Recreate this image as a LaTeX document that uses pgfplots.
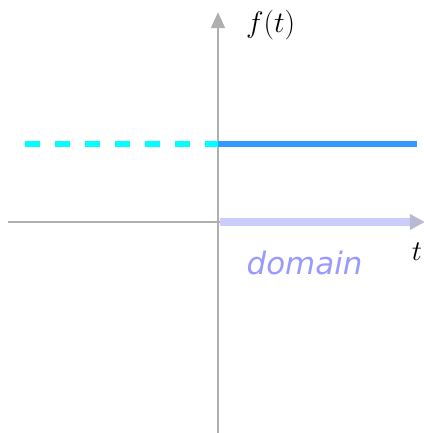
\documentclass[border=0pt]{standalone}
\usepackage{fontspec}
\usepackage{pgfplots}
\pgfplotsset{compat=1.18}
\usetikzlibrary{arrows.meta}
\newfontfamily\dv{DejaVu Sans}
\definecolor{axgray}{RGB}{175,175,175}
\definecolor{fblue}{RGB}{51,153,255}
\definecolor{fcyan}{RGB}{0,255,255}
\definecolor{lav}{RGB}{204,204,250}
\definecolor{lavhead}{RGB}{185,185,210}
\definecolor{domtext}{RGB}{153,153,255}
\begin{document}
\begin{tikzpicture}[x=1bp,y=1bp]
\begin{axis}[
  scale only axis, width=424bp, height=433bp,
  xmin=-1.0955, xmax=1.0352, ymin=-2.705, ymax=2.846,
  axis lines=none, clip=false,
]
% axes
\draw[axgray, line width=1.6bp] (axis cs:-1.055,0) -- (axis cs:1.0,0);
\draw[axgray, line width=1.6bp, -{Triangle[length=16bp,width=14bp]}] (axis cs:0,-2.705) -- (axis cs:0,2.69);
% domain arrow
\draw[lav, line width=8bp] (axis cs:0.01,0) -- (axis cs:0.97,0);
\draw[lavhead, fill=lavhead] (axis cs:0.965,0.1) -- (axis cs:1.0352,0) -- (axis cs:0.965,-0.1) -- cycle;
% function
\addplot[fcyan, line width=5.5bp, dash pattern=on 15bp off 15bp] coordinates {(-0.97,1) (0,1)};
\addplot[fblue, line width=6bp] coordinates {(0,1) (1.0,1)};
% labels
\node[anchor=west, font=\Huge, scale=1.2] at (axis cs:0.12,2.53) {$f(t)$};
\node[font=\Huge, scale=1.15] at (axis cs:1.0,-0.38) {$t$};
\node[domtext, font=\dv\itshape\fontsize{31}{34}\selectfont] at (axis cs:0.435,-0.53) {domain};
\end{axis}
\pgfresetboundingbox
\path[use as bounding box] (current axis.south west) rectangle (current axis.north east);
\end{tikzpicture}
\end{document}
